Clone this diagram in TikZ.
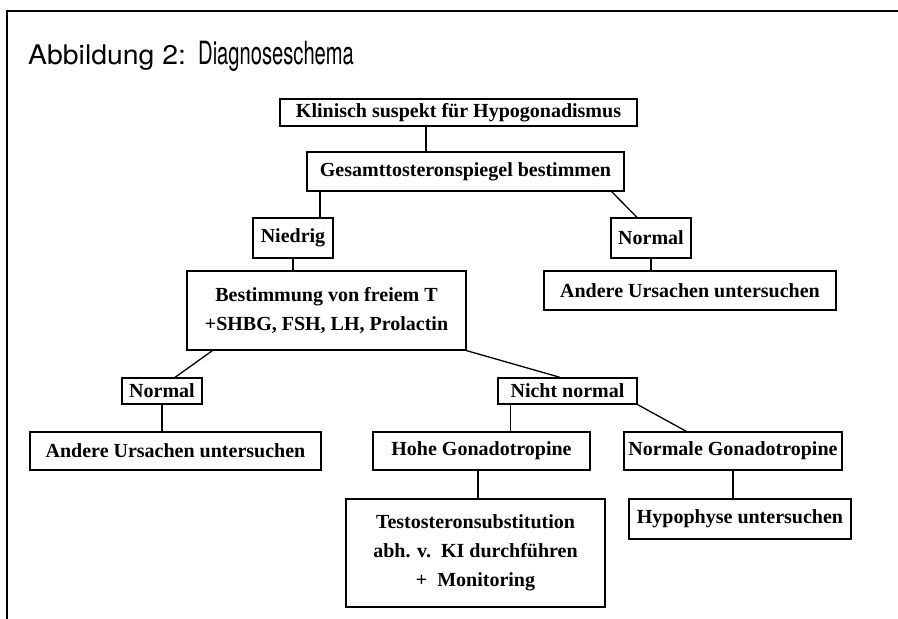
\documentclass[tikz,border=0pt]{standalone}
\usepackage{fontspec}
\setmainfont{Liberation Serif}
\newfontfamily\titlefont[FakeStretch=0.63]{TeX Gyre Heros}
\newfontfamily\abbfont[FakeStretch=1.05]{TeX Gyre Heros}
\usepackage{tikz}

\newcommand{\boxfont}{\bfseries\fontsize{20}{29}\selectfont}

\begin{document}
\begin{tikzpicture}[x=1pt,y=-1pt,
    box/.style={draw, line width=1.3pt, inner sep=0pt, font=\boxfont, align=center},
    link/.style={line width=1.3pt}]
  \useasboundingbox (0,0) rectangle (898,619);
  % frame and title
  \draw[line width=1.5pt] (7,619) -- (7,11) -- (898,11);
  \node[anchor=base west, inner sep=0pt, font=\abbfont\fontsize{27}{30}\selectfont] (abb) at (28,64) {Abbildung 2:};
  \node[anchor=base west, inner sep=0pt, font=\titlefont\fontsize{32}{34}\selectfont] (title) at (198,64) {Diagnoseschema};

  \node[box, minimum width=357, minimum height=27] (klin) at (458.5,112.5) {Klinisch suspekt für Hypogonadismus};
  \node[box, minimum width=317, minimum height=39] (gesamt) at (465.5,171.5) {Gesamttosteronspiegel bestimmen};
  \node[box, minimum width=80, minimum height=40] (niedrig) at (293,238) {Niedrig};
  \node[box, minimum width=80, minimum height=40] (normR) at (651,238) {Normal};
  \node[box, minimum width=279, minimum height=79] (bestimm) at (326.5,310.5)
    {Bestimmung von freiem T\\+SHBG, FSH, LH, Prolactin};
  \node[box, minimum width=292, minimum height=39] (andereR) at (690,290.5) {Andere Ursachen untersuchen};
  \node[box, minimum width=80, minimum height=26] (normL) at (162,391) {Normal};
  \node[box, minimum width=139, minimum height=26] (nicht) at (567.5,391) {Nicht normal};
  \node[box, minimum width=291, minimum height=38] (andereL) at (175.5,451) {Andere Ursachen untersuchen};
  \node[box, minimum width=217, minimum height=38] (hohe) at (481.5,451) {Hohe Gonadotropine};
  \node[box, minimum width=218, minimum height=38] (normale) at (733,451) {Normale Gonadotropine};
  \node[box, minimum width=259, minimum height=108] (testo) at (475.5,553)
    {Testosteronsubstitution\\abh. v.\ \ KI durchführen\\+\ \ Monitoring};
  \node[box, minimum width=222, minimum height=40] (hypo) at (740,519) {Hypophyse untersuchen};

  % connectors
  \draw[link] ([xshift=-32.5pt]klin.south) -- ([xshift=-32.5pt]klin.south |- gesamt.north);
  \draw[link] ([xshift=27pt]niedrig.north |- gesamt.south) -- ([xshift=27pt]niedrig.north);
  \draw[link] ([xshift=-13pt]gesamt.south east) -- ([xshift=-14pt]normR.north);
  \draw[link] (niedrig.south) -- (niedrig.south |- bestimm.north);
  \draw[link] (normR.south) -- (normR.south |- andereR.north);
  \draw[link] ([xshift=26pt]bestimm.south west) -- ([xshift=13pt]normL.north);
  \draw[link] (bestimm.south east) -- ([xshift=-7.5pt]nicht.north);
  \draw[link] (normL.south) -- (normL.south |- andereL.north);
  \draw[link] ([xshift=13pt]nicht.south west) -- ([xshift=13pt]nicht.south west |- hohe.north);
  \draw[link] (nicht.south east) -- ([xshift=63pt]normale.north west);
  \draw[link] ([xshift=-3.5pt]hohe.south) -- ([xshift=-3.5pt]hohe.south |- testo.north);
  \draw[link] (normale.south) -- (normale.south |- hypo.north);
\end{tikzpicture}
\end{document}
